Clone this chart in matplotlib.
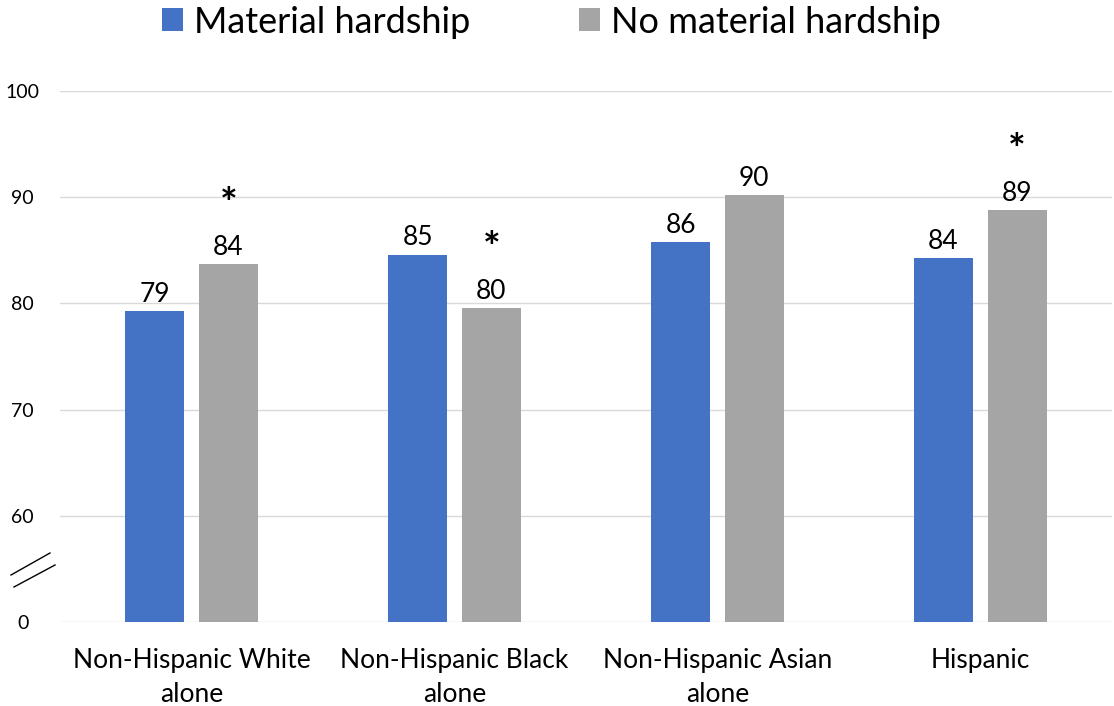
import matplotlib.pyplot as plt
import numpy as np

categories = ['Non-Hispanic White\nalone', 'Non-Hispanic Black\nalone',
              'Non-Hispanic Asian\nalone', 'Hispanic']
hardship = [79.3, 84.6, 85.8, 84.3]
no_hardship = [83.7, 79.6, 90.2, 88.8]
hardship_labels = ['79', '85', '86', '84']
no_hardship_labels = ['84', '80', '90', '89']
no_hardship_star = [True, True, False, True]
ytick_vals = [50, 60, 70, 80, 90, 100]
ytick_labels = ['0', '60', '70', '80', '90', '100']

plt.rcParams['font.family'] = ['Lato', 'DejaVu Sans']
blue = '#4472C4'
gray = '#A5A5A5'

fig = plt.figure(figsize=(11.14, 7.06), dpi=100)
ax = fig.add_axes([0.054, 0.119, 0.944, 0.752])

x = np.arange(len(categories))
w = 0.224
off = 0.14
ax.bar(x - off, hardship, w, color=blue, label='Material hardship', zorder=3)
ax.bar(x + off, no_hardship, w, color=gray, label='No material hardship', zorder=3)

for xi, v, lab in zip(x - off, hardship, hardship_labels):
    ax.annotate(lab, (xi, v), xytext=(0, 3), textcoords='offset points',
                ha='center', va='bottom', fontsize=19)
for xi, v, lab, star in zip(x + off, no_hardship, no_hardship_labels, no_hardship_star):
    ax.annotate(lab, (xi, v), xytext=(0, 3), textcoords='offset points',
                ha='center', va='bottom', fontsize=19)
    if star:
        ax.annotate('*', (xi, v), xytext=(0, 28), textcoords='offset points',
                    ha='center', va='bottom', fontsize=30, fontweight='bold')

ax.set_ylim(50, 100)
ax.set_xlim(-0.5, len(categories) - 0.5)
ax.set_yticks(ytick_vals)
ax.set_yticklabels(ytick_labels, ha='center')
ax.set_xticks(x)
ax.set_xticklabels(categories, fontsize=19, linespacing=1.45)
ax.tick_params(axis='y', length=0, pad=27, labelsize=14)
ax.tick_params(axis='x', length=0, pad=19)
ax.yaxis.grid(True, color='#d9d9d9', linewidth=1, zorder=0)
ax.set_axisbelow(True)
for s in ax.spines.values():
    s.set_visible(False)

# axis break marks
fig.add_artist(plt.Line2D([11 / 1114, 50 / 1114], [1 - 575 / 706, 1 - 553 / 706],
                          color='black', linewidth=1))
fig.add_artist(plt.Line2D([14 / 1114, 55 / 1114], [1 - 587 / 706, 1 - 565 / 706],
                          color='black', linewidth=1))

fig.legend(loc='upper center', bbox_to_anchor=(0.495, 1.038), ncol=2, frameon=False,
           fontsize=26, handlelength=0.6, handleheight=0.6, handletextpad=0.3,
           columnspacing=3.0)

fig.savefig('out.png', dpi=100)
